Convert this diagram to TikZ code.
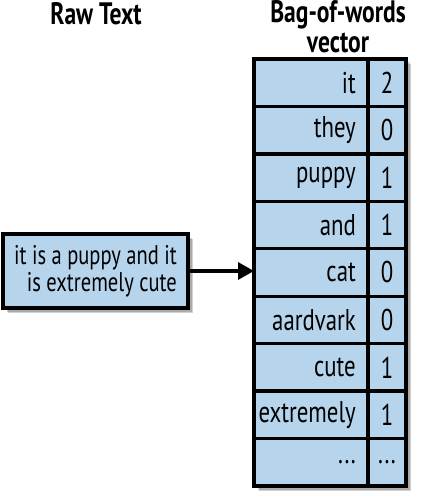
\documentclass[tikz,border=0pt]{standalone}
\usepackage{fontspec}
\setmainfont[FakeStretch=0.76]{PT Sans}
\usetikzlibrary{arrows.meta}
\definecolor{cellblue}{RGB}{182,212,236}
\def\mydots{...}
\tikzset{
  cell/.style={draw=black, line width=3.4pt, fill=cellblue, inner sep=0pt},
  word/.style={anchor=east, font=\fontsize{30}{32}\selectfont, inner sep=0pt},
  num/.style={font=\fontsize{30}{32}\selectfont, inner sep=0pt},
  title/.style={font=\bfseries\fontsize{31}{30}\selectfont, align=center, inner sep=1pt},
  shade1/.style={fill=black, opacity=0.18},
}
\begin{document}
\begin{tikzpicture}[x=1pt,y=-1pt]
\useasboundingbox (0,0) rectangle (421,497);
\node[title] (t1) at (96,14) {Raw Text};
\node[title] (t2) at (338,27) {Bag-of-words\\vector};
% table shadow
\foreach \d in {0,1.5,3}{
  \fill[shade1] (256+\d,61+\d) rectangle (408+\d,488+\d);
}
\def\rh{47.44}
\foreach \w/\n [count=\i from 0] in {it/2, they/0, puppy/1, and/1, cat/0, aardvark/0, cute/1, extremely/1, \mydots/\mydots}{
  \pgfmathsetmacro{\ya}{59+\i*\rh}
  \pgfmathsetmacro{\yb}{59+(\i+1)*\rh}
  \pgfmathsetmacro{\yc}{59+(\i+0.5)*\rh}
  \draw[cell] (254,\ya) rectangle (368,\yb);
  \draw[cell] (368,\ya) rectangle (406,\yb);
  \node[word] (w\i) at (356,\yc) {\w};
  \node[num] (n\i) at (387,\yc) {\n};
}
\coordinate (tin) at (254,272);
% left box shadow
\foreach \d in {0,1.5,3}{
  \fill[shade1] (5+\d,236+\d) rectangle (190+\d,310+\d);
}
\node[cell, minimum width=185pt, minimum height=74pt, align=right,
  font=\fontsize{27}{27}\selectfont] (raw) at (95.5,271) {it is a puppy and it\\is extremely cute};
\draw[line width=3.2pt, -{Triangle[length=16pt,width=17pt]}] (raw.east) -- (raw.east -| tin);
\end{tikzpicture}
\end{document}
